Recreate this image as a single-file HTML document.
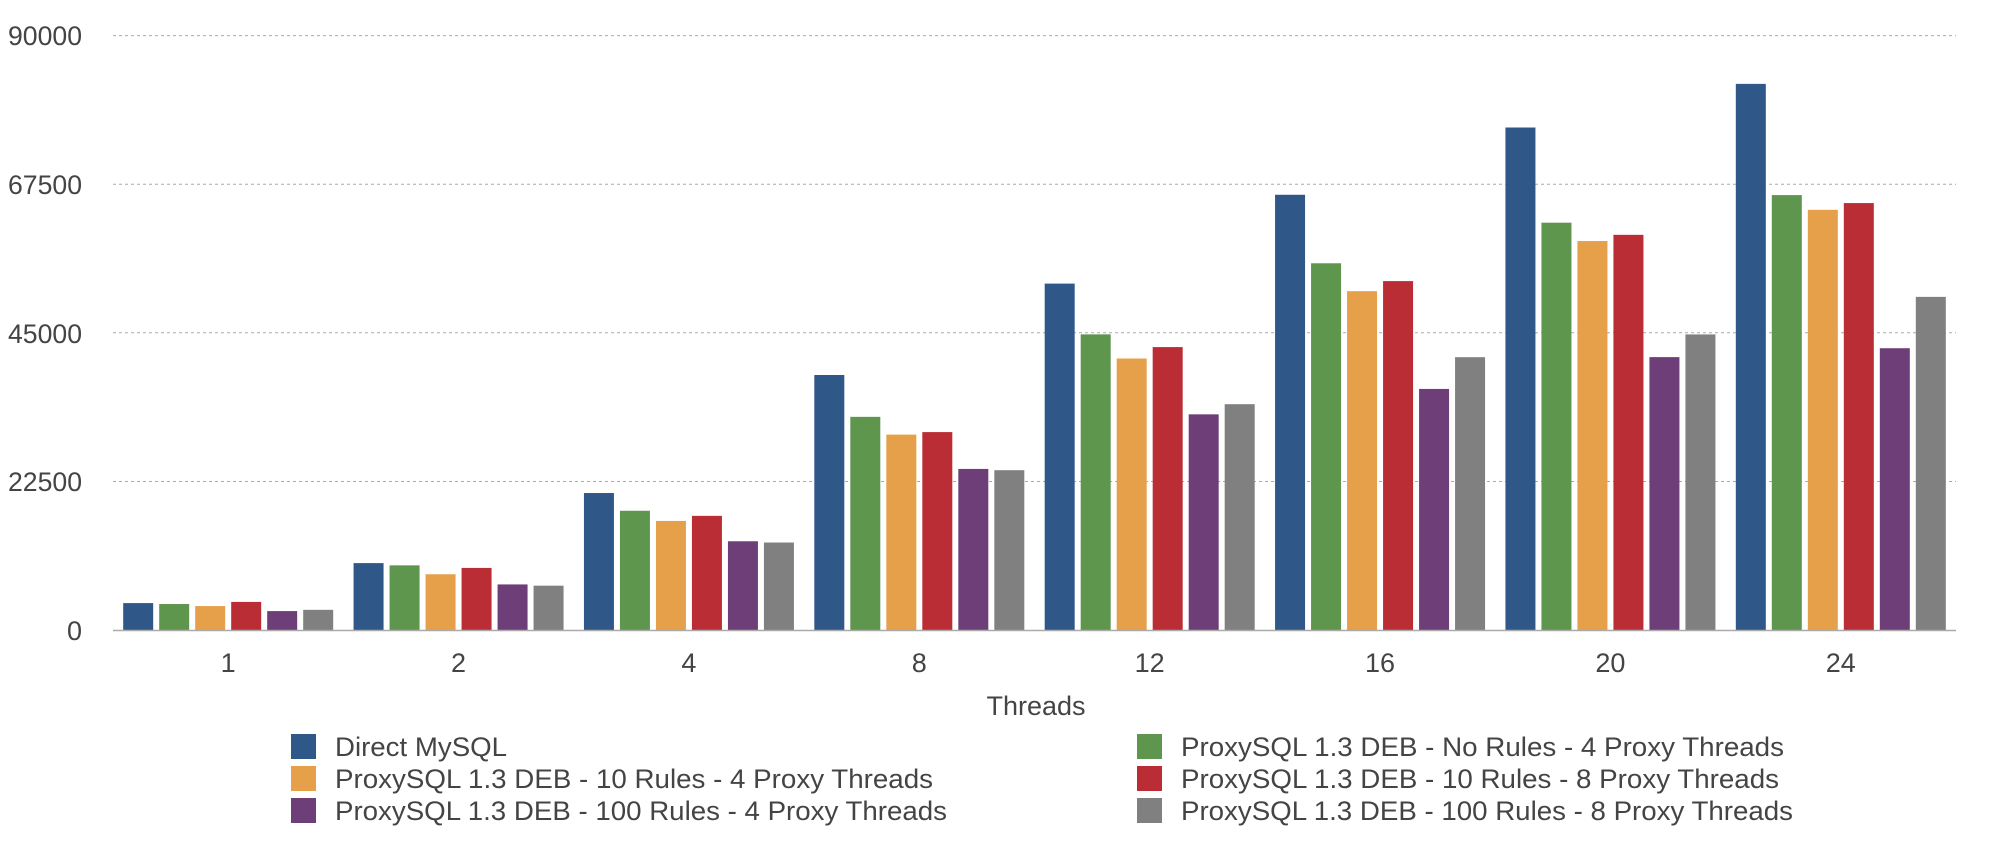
<!DOCTYPE html>
<html><head><meta charset="utf-8"><style>
html,body{margin:0;padding:0;background:#fff;width:1992px;height:860px;overflow:hidden}
svg text{font-family:"Liberation Sans",sans-serif;fill:#444}
</style></head><body>
<svg width="1992" height="860" xmlns="http://www.w3.org/2000/svg">
<g stroke="#aaa" stroke-width="1" stroke-dasharray="3,3">
<line x1="113" y1="35.6" x2="1956" y2="35.6"/>
<line x1="113" y1="184.2" x2="1956" y2="184.2"/>
<line x1="113" y1="332.8" x2="1956" y2="332.8"/>
<line x1="113" y1="481.5" x2="1956" y2="481.5"/>
</g>
<g font-size="27" text-anchor="end">
<text x="82" y="45" textLength="74" lengthAdjust="spacingAndGlyphs">90000</text>
<text x="82" y="194" textLength="74" lengthAdjust="spacingAndGlyphs">67500</text>
<text x="82" y="343" textLength="74" lengthAdjust="spacingAndGlyphs">45000</text>
<text x="82" y="491" textLength="74" lengthAdjust="spacingAndGlyphs">22500</text>
<text x="82" y="640">0</text>
</g>
<g id="bars"></g>
<line x1="113" y1="630.5" x2="1956" y2="630.5" stroke="#aaa" stroke-width="1.5"/>
<g font-size="27" text-anchor="middle" id="xl"></g>
<text x="1036" y="715" font-size="27" text-anchor="middle" textLength="99" lengthAdjust="spacingAndGlyphs">Threads</text>
<g font-size="27">
<rect x="291" y="734" width="25" height="25" fill="#2f5788"/><text x="335" y="756" textLength="172" lengthAdjust="spacingAndGlyphs">Direct MySQL</text>
<rect x="291" y="766" width="25" height="25" fill="#e5a049"/><text x="335" y="788" textLength="598" lengthAdjust="spacingAndGlyphs">ProxySQL 1.3 DEB - 10 Rules - 4 Proxy Threads</text>
<rect x="291" y="798" width="25" height="25" fill="#6e3e78"/><text x="335" y="820" textLength="612" lengthAdjust="spacingAndGlyphs">ProxySQL 1.3 DEB - 100 Rules - 4 Proxy Threads</text>
<rect x="1137" y="734" width="25" height="25" fill="#5f964e"/><text x="1181" y="756" textLength="603" lengthAdjust="spacingAndGlyphs">ProxySQL 1.3 DEB - No Rules - 4 Proxy Threads</text>
<rect x="1137" y="766" width="25" height="25" fill="#ba2d35"/><text x="1181" y="788" textLength="598" lengthAdjust="spacingAndGlyphs">ProxySQL 1.3 DEB - 10 Rules - 8 Proxy Threads</text>
<rect x="1137" y="798" width="25" height="25" fill="#808080"/><text x="1181" y="820" textLength="612" lengthAdjust="spacingAndGlyphs">ProxySQL 1.3 DEB - 100 Rules - 8 Proxy Threads</text>
</g>
</svg>
<script>
var data=[[4090,3950,3640,4270,2880,3070],[10150,9810,8460,9420,6920,6730],[20770,18080,16540,17310,13460,13270],[38650,32310,29620,30000,24420,24230],[52500,44810,41150,42880,32690,34230],[65960,55580,51350,52880,36540,41350],[76150,61730,58950,59890,41360,44800],[82760,65910,63680,64700,42710,50490]];
var labels=["1","2","4","8","12","16","20","24"];
var cols=["#2f5788","#5f964e","#e5a049","#ba2d35","#6e3e78","#808080"];
var ns="http://www.w3.org/2000/svg",b=document.getElementById("bars"),xl=document.getElementById("xl");
var gw=(1956-113)/8;
data.forEach(function(g,i){var c=113+gw*(i+0.5);
g.forEach(function(v,j){var h=v/22500*148.5;var r=document.createElementNS(ns,"rect");
r.setAttribute("x",c-105+36*j);r.setAttribute("width",30);r.setAttribute("y",630.1-h);r.setAttribute("height",h);r.setAttribute("fill",cols[j]);b.appendChild(r);});
var t=document.createElementNS(ns,"text");t.setAttribute("x",c);t.setAttribute("y",672);t.textContent=labels[i];xl.appendChild(t);});
</script>
</body></html>
